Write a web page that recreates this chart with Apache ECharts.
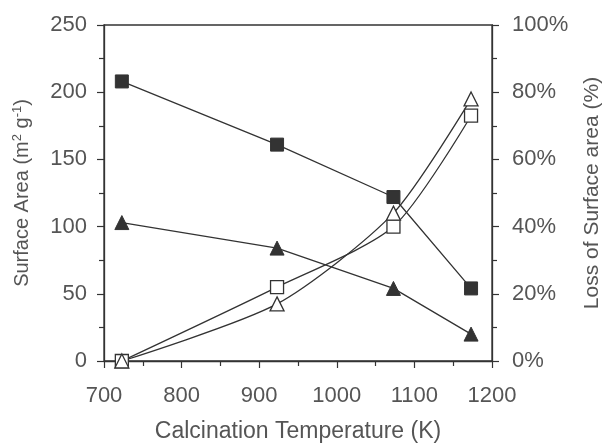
<!DOCTYPE html>
<html>
<head>
<meta charset="utf-8">
<script src="https://cdn.jsdelivr.net/npm/echarts@6/dist/echarts.min.js"></script>
<style>
  html, body { margin: 0; padding: 0; background: #fff; }
  #chart { width: 606px; height: 448px; }
</style>
</head>
<body>
<div id="chart"></div>
<script>
// calcination temperatures (K)
const temps = [723, 923, 1073, 1173]
// surface area (m2/g), left axis
const areaSquare = [208, 161, 122, 54]
const areaTriangle = [103, 84, 54, 20]
// loss of surface area (%), right axis
const lossSquare = [0, 22, 40, 73]
const lossTriangle = [0, 17, 44, 78]

const ink = '#333'
const txt = '#555'
const font = 'Liberation Sans'

const pairs = ys => temps.map((t, i) => [t, ys[i]])

const chart = echarts.init(document.getElementById('chart'))

const axisCommon = {
  axisLine: { show: true, lineStyle: { color: ink, width: 1.3 } },
  axisTick: { show: true, length: 7, lineStyle: { color: ink, width: 1.2 } },
  minorTick: { show: true, splitNumber: 2, length: 5, lineStyle: { color: ink, width: 1.2 } },
  splitLine: { show: false },
  axisLabel: { color: txt, fontSize: 22, fontFamily: font },
  nameTextStyle: { color: txt, fontSize: 22, fontFamily: font }
}

chart.setOption({
  animation: false,
  backgroundColor: '#fff',
  grid: {
    left: 104, right: 114, top: 25, bottom: 87,
    outerBoundsMode: 'none',
    show: true, borderColor: ink, borderWidth: 1.3
  },
  xAxis: {
    ...axisCommon,
    type: 'value', min: 700, max: 1200, interval: 100,
    name: 'Calcination Temperature (K)',
    nameLocation: 'middle', nameGap: 59,
    nameTextStyle: { ...axisCommon.nameTextStyle, fontSize: 23 },
    axisLabel: { ...axisCommon.axisLabel, margin: 24, formatter: v => String(v) }
  },
  yAxis: [
    {
      ...axisCommon,
      type: 'value', min: 0, max: 250, interval: 50,
      name: 'Surface Area (m{sup|2} g{sup|-1})',
      nameLocation: 'middle', nameGap: 70,
      nameTextStyle: {
        ...axisCommon.nameTextStyle, fontSize: 20,
        rich: { sup: { fontSize: 13, color: txt, fontFamily: font, verticalAlign: 'top', padding: [0, 0, 10, 0] } }
      },
      axisLabel: { ...axisCommon.axisLabel, margin: 17 }
    },
    {
      ...axisCommon,
      type: 'value', min: 0, max: 100, interval: 20, position: 'right',
      name: 'Loss of Surface area (%)',
      nameLocation: 'middle', nameGap: 90, nameRotate: 90,
      nameTextStyle: { ...axisCommon.nameTextStyle, fontSize: 21 },
      axisLabel: { ...axisCommon.axisLabel, margin: 20, formatter: '{value}%' }
    }
  ],
  series: [
    {
      type: 'line', yAxisIndex: 0, data: pairs(areaSquare),
      symbol: 'rect', symbolSize: 13,
      lineStyle: { color: ink, width: 1.3 },
      itemStyle: { color: ink, borderColor: ink }
    },
    {
      type: 'line', yAxisIndex: 0, data: pairs(areaTriangle),
      symbol: 'triangle', symbolSize: 14,
      lineStyle: { color: ink, width: 1.3 },
      itemStyle: { color: ink, borderColor: ink }
    },
    {
      type: 'line', yAxisIndex: 1, data: pairs(lossSquare), smooth: 0.25,
      symbol: 'rect', symbolSize: 13,
      lineStyle: { color: ink, width: 1.3 },
      itemStyle: { color: '#fff', borderColor: ink, borderWidth: 1.3 }
    },
    {
      type: 'line', yAxisIndex: 1, data: pairs(lossTriangle), smooth: 0.25,
      symbol: 'triangle', symbolSize: 14,
      lineStyle: { color: ink, width: 1.3 },
      itemStyle: { color: '#fff', borderColor: ink, borderWidth: 1.3 }
    }
  ]
})
</script>
</body>
</html>
